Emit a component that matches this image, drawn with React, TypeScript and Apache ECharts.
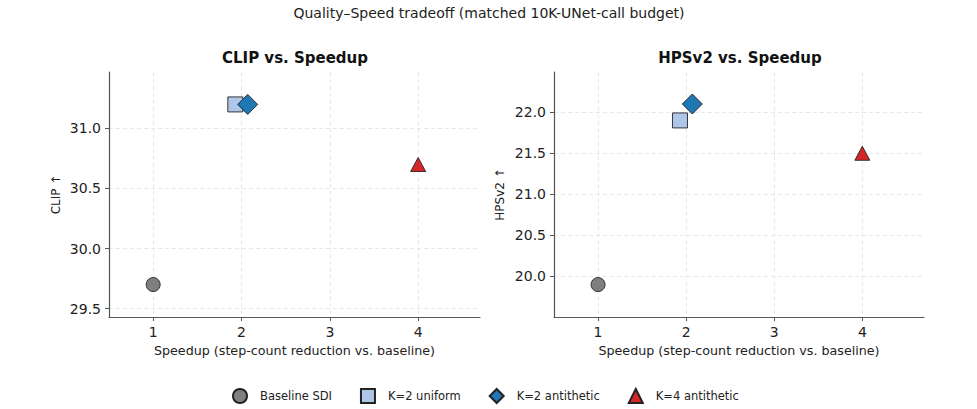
import React, { useEffect, useRef } from "react";
import * as echarts from "echarts";

const seriesNames = ["Baseline SDI", "K=2 uniform", "K=2 antithetic", "K=4 antithetic"];
const speedup = [1, 1.93, 2.07, 4];
const clipValues = [29.7, 31.2, 31.2, 30.7];
const hpsValues = [19.9, 21.9, 22.1, 21.5];
const xTicks = [1, 2, 3, 4];
const clipTicks = [29.5, 30.0, 30.5, 31.0];
const hpsTicks = [20.0, 20.5, 21.0, 21.5, 22.0];

const symbols = ["circle", "rect", "diamond", "triangle"];
const symbolSizes: any[] = [14, 15, 20, [15, 14]];
const colors = ["#7f7f7f", "#aec7e8", "#1f77b4", "#d62728"];

const FONT = "DejaVu Sans";
const AXIS_COLOR = "#555";

function xAxis(gridIndex: number) {
  return {
    type: "value",
    gridIndex,
    min: 0.5,
    max: 4.7,
    name: "Speedup (step-count reduction vs. baseline)",
    nameLocation: "middle",
    nameGap: 27,
    nameTextStyle: { fontFamily: FONT, fontSize: 12.7, color: "#222" },
    axisLine: { show: true, lineStyle: { color: AXIS_COLOR, width: 1.2 } },
    axisTick: { show: true, length: 4, customValues: xTicks, lineStyle: { color: AXIS_COLOR } },
    axisLabel: {
      customValues: xTicks,
      margin: 8,
      fontFamily: FONT,
      fontSize: 14,
      color: "#222",
      formatter: (v: number) => String(v),
    },
    splitLine: { show: true, lineStyle: { color: "#e2e2e2", type: [4, 3], width: 0.8 } },
  };
}

function yAxis(gridIndex: number, min: number, max: number, ticks: number[], name: string, nameGap: number) {
  return {
    type: "value",
    gridIndex,
    min,
    max,
    name,
    nameLocation: "middle",
    nameGap,
    nameTextStyle: { fontFamily: FONT, fontSize: 12, color: "#222" },
    axisLine: { show: true, lineStyle: { color: AXIS_COLOR, width: 1.2 } },
    axisTick: { show: true, length: 4, customValues: ticks, lineStyle: { color: AXIS_COLOR } },
    axisLabel: {
      customValues: ticks,
      margin: 8,
      fontFamily: FONT,
      fontSize: 14,
      color: "#222",
      formatter: (v: number) => v.toFixed(1),
    },
    splitLine: { show: true, lineStyle: { color: "#e2e2e2", type: [4, 3], width: 0.8 } },
  };
}

function makeSeries(gridIdx: number, values: number[]) {
  return seriesNames.map((name, i) => ({
    type: "scatter",
    name,
    xAxisIndex: gridIdx,
    yAxisIndex: gridIdx,
    symbol: symbols[i],
    symbolSize: symbolSizes[i],
    data: [[speedup[i], values[i]]],
    itemStyle: { color: colors[i], borderColor: "#222", borderWidth: 0.9, opacity: 1 },
    z: 2 + i,
  }));
}

export default function App() {
  const ref = useRef<HTMLDivElement>(null);
  useEffect(() => {
    if (!ref.current) return;
    const chart = echarts.init(ref.current, null, { renderer: "svg" });
    chart.setOption({
      animation: false,
      backgroundColor: "#ffffff",
      title: [
        {
          text: "Quality\u2013Speed tradeoff (matched 10K-UNet-call budget)",
          left: 484,
          top: 1,
          textAlign: "center",
          textStyle: { fontFamily: FONT, fontSize: 14, fontWeight: "normal", color: "#222" },
        },
        {
          text: "CLIP vs. Speedup",
          left: 290,
          top: 45,
          textAlign: "center",
          textStyle: { fontFamily: FONT, fontSize: 15, fontWeight: "bold", color: "#111" },
        },
        {
          text: "HPSv2 vs. Speedup",
          left: 735,
          top: 45,
          textAlign: "center",
          textStyle: { fontFamily: FONT, fontSize: 15, fontWeight: "bold", color: "#111" },
        },
      ],
      legend: {
        data: seriesNames,
        left: 227,
        top: 383,
        itemWidth: 14,
        itemHeight: 14,
        itemGap: 28,
        symbolKeepAspect: true,
        textStyle: { fontFamily: FONT, fontSize: 11.5, color: "#222", padding: [0, 0, 0, 8] },
      },
      grid: [
        { left: 109, top: 72, width: 371, height: 245, containLabel: false },
        { left: 554, top: 72, width: 370, height: 245, containLabel: false },
      ],
      xAxis: [xAxis(0), xAxis(1)],
      yAxis: [
        yAxis(0, 29.43, 31.47, clipTicks, "CLIP \u2191", 47),
        yAxis(1, 19.505, 22.49, hpsTicks, "HPSv2 \u2191", 48),
      ],
      series: [...makeSeries(0, clipValues), ...makeSeries(1, hpsValues)],
    });
    return () => chart.dispose();
  }, []);
  return (
    <div
      ref={ref}
      style={{ position: "absolute", left: 0, top: 0, width: 977, height: 409 }}
    />
  );
}
